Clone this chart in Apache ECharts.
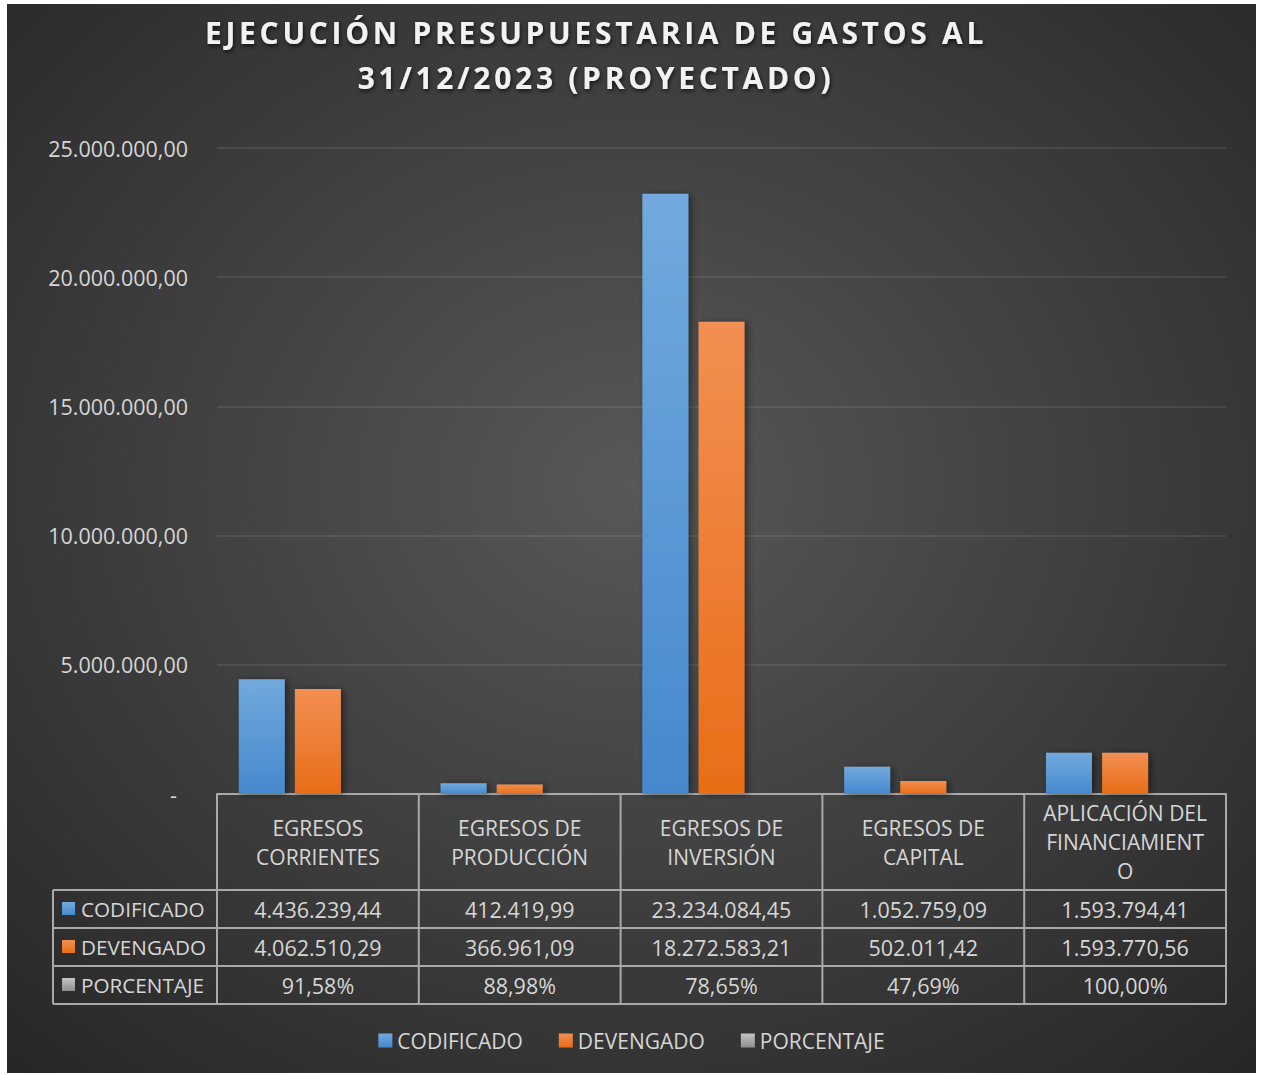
<!DOCTYPE html>
<html>
<head>
<meta charset="utf-8">
<title>Ejecución presupuestaria</title>
<script src="https://cdn.jsdelivr.net/npm/echarts@6.0.0/dist/echarts.min.js"></script>
<style>
  html, body { margin: 0; padding: 0; background: #ffffff; }
  #chart { position: absolute; left: 7px; top: 4px; width: 1249px; height: 1069px; }
</style>
</head>
<body>
<div id="chart"></div>
<script>
// datos
const categories = ['EGRESOS CORRIENTES', 'EGRESOS DE PRODUCCIÓN', 'EGRESOS DE INVERSIÓN', 'EGRESOS DE CAPITAL', 'APLICACIÓN DEL FINANCIAMIENTO'];
const categoryLines = [['EGRESOS', 'CORRIENTES'], ['EGRESOS DE', 'PRODUCCIÓN'], ['EGRESOS DE', 'INVERSIÓN'], ['EGRESOS DE', 'CAPITAL'], ['APLICACIÓN DEL', 'FINANCIAMIENT', 'O']];
const seriesNames = ['CODIFICADO', 'DEVENGADO', 'PORCENTAJE'];
const codificado = [4436239.44, 412419.99, 23234084.45, 1052759.09, 1593794.41];
const devengado = [4062510.29, 366961.09, 18272583.21, 502011.42, 1593770.56];
const porcentaje = [91.58, 88.98, 78.65, 47.69, 100.00];
const yTicks = [0, 5000000, 10000000, 15000000, 20000000, 25000000];
const titleLines = ['EJECUCIÓN PRESUPUESTARIA DE GASTOS AL', '31/12/2023 (PROYECTADO)'];

const FONT = '"Open Sans", "Noto Sans", sans-serif';
const textColor = '#d6d6d6';
const lineColor = '#a9a9a9';

// formato es-EC: 1.234.567,89
function fmt(v, d) {
  const parts = v.toFixed(d).split('.');
  parts[0] = parts[0].replace(/\B(?=(\d{3})+(?!\d))/g, '.');
  return parts.join(',');
}

function grad(top, bottom) {
  return {
    type: 'linear', x: 0, y: 0, x2: 0, y2: 1,
    colorStops: [{ offset: 0, color: top }, { offset: 1, color: bottom }]
  };
}

const colors = [grad('#72a9de', '#4589cd'), grad('#f28f52', '#e86d17'), grad('#c4c4c4', '#8f8f8f')];

const chart = echarts.init(document.getElementById('chart'), null, { renderer: 'svg' });

const barShadow = {
  shadowColor: 'rgba(0,0,0,0.45)',
  shadowBlur: 7,
  shadowOffsetX: 3,
  shadowOffsetY: 1
};

const option = {
  animation: false,
  backgroundColor: {
    type: 'radial', x: 0.5, y: 0.45, r: 0.78,
    colorStops: [{ offset: 0, color: '#585858' }, { offset: 1, color: '#242424' }]
  },
  textStyle: { fontFamily: FONT },
  grid: {
    left: 210,
    right: 30,
    top: 144,
    bottom: 279,
    containLabel: false,
    outerBoundsMode: 'none'
  },
  legend: {
    data: seriesNames,
    top: 1021,
    left: 'center',
    icon: 'rect',
    itemWidth: 14,
    itemHeight: 14,
    itemGap: 36,
    textStyle: { color: textColor, fontSize: 21, fontFamily: FONT }
  },
  xAxis: {
    type: 'category',
    data: categories,
    axisLine: { show: true, lineStyle: { color: lineColor, width: 2 } },
    axisTick: { show: false },
    axisLabel: { show: false },
    splitLine: { show: false }
  },
  yAxis: {
    type: 'value',
    min: yTicks[0],
    max: yTicks[yTicks.length - 1],
    interval: yTicks[1] - yTicks[0],
    axisLine: { show: false },
    axisTick: { show: false },
    splitLine: { lineStyle: { color: 'rgba(255,255,255,0.11)', width: 1.5 } },
    axisLabel: {
      color: textColor,
      fontSize: 21.5,
      fontFamily: FONT,
      margin: 29,
      formatter: function (v) {
        return v === 0 ? '-  ' : fmt(v, 2);
      }
    }
  },
  series: [
    { name: seriesNames[0], type: 'bar', data: codificado, barWidth: 46, barGap: '22%', itemStyle: Object.assign({ color: colors[0] }, barShadow) },
    { name: seriesNames[1], type: 'bar', data: devengado, barWidth: 46, barGap: '22%', itemStyle: Object.assign({ color: colors[1] }, barShadow) },
    { name: seriesNames[2], type: 'bar', data: porcentaje, barWidth: 46, barGap: '22%', itemStyle: { color: colors[2] } }
  ]
};

chart.setOption(option);

// tabla de datos bajo el eje, alineada con las categorias del eje x
const graphics = [];
const c0 = chart.convertToPixel({ xAxisIndex: 0 }, 0);
const c1 = chart.convertToPixel({ xAxisIndex: 0 }, 1);
const band = c1 - c0;
const axisY = chart.convertToPixel({ yAxisIndex: 0 }, 0);
const tableLeft = 46;
const headerH = 96;
const rowH = 38;
const gridLeft = c0 - band / 2;
const gridRight = gridLeft + band * categories.length;
const rowTop = axisY + headerH;
const tableBottom = rowTop + rowH * 3;

function line(x1, y1, x2, y2) {
  graphics.push({
    type: 'line', silent: true,
    shape: { x1: x1, y1: y1, x2: x2, y2: y2 },
    style: { stroke: lineColor, lineWidth: 2 }
  });
}

function text(str, x, y, align, size) {
  graphics.push({
    type: 'text', silent: true,
    style: {
      text: str, x: x, y: y, align: align, verticalAlign: 'middle',
      fill: textColor, font: size + 'px ' + FONT
    }
  });
}

for (let r = 0; r <= 3; r++) line(tableLeft, rowTop + r * rowH, gridRight, rowTop + r * rowH);
line(tableLeft, rowTop, tableLeft, tableBottom);
for (let i = 0; i <= categories.length; i++) line(gridLeft + i * band, axisY, gridLeft + i * band, tableBottom);

categoryLines.forEach(function (lines, i) {
  const cx = chart.convertToPixel({ xAxisIndex: 0 }, i);
  const lh = 29;
  const start = axisY + headerH / 2 - (lines.length - 1) * lh / 2;
  lines.forEach(function (s, k) { text(s, cx, start + k * lh, 'center', 21); });
});

const rows = [
  codificado.map(function (v) { return fmt(v, 2); }),
  devengado.map(function (v) { return fmt(v, 2); }),
  porcentaje.map(function (v) { return fmt(v, 2) + '%'; })
];

rows.forEach(function (vals, r) {
  const cy = rowTop + r * rowH + rowH / 2;
  graphics.push({
    type: 'rect', silent: true,
    shape: { x: 55, y: cy - 7, width: 13, height: 13 },
    style: { fill: colors[r] }
  });
  text(seriesNames[r], 74, cy, 'left', 20.7);
  vals.forEach(function (s, i) {
    text(s, chart.convertToPixel({ xAxisIndex: 0 }, i), cy, 'center', 21.5);
  });
});

// titulo
titleLines.forEach(function (s, k) {
  graphics.push({
    type: 'text', silent: true,
    style: {
      text: s, x: 589, y: 28 + k * 45, align: 'center', verticalAlign: 'middle',
      fill: '#f2f2f2', font: 'bold 30px ' + FONT,
      shadowColor: 'rgba(0,0,0,0.7)', shadowBlur: 4, shadowOffsetX: 1, shadowOffsetY: 2,
      textShadowColor: 'rgba(0,0,0,0.7)', textShadowBlur: 4, textShadowOffsetX: 1, textShadowOffsetY: 2
    }
  });
});

chart.setOption({ graphic: graphics });

// espaciado de letras del titulo (como en el original)
chart.getDom().querySelectorAll('text').forEach(function (t) {
  if (titleLines.indexOf(t.textContent) >= 0) t.setAttribute('letter-spacing', '3.7');
});
</script>
</body>
</html>
